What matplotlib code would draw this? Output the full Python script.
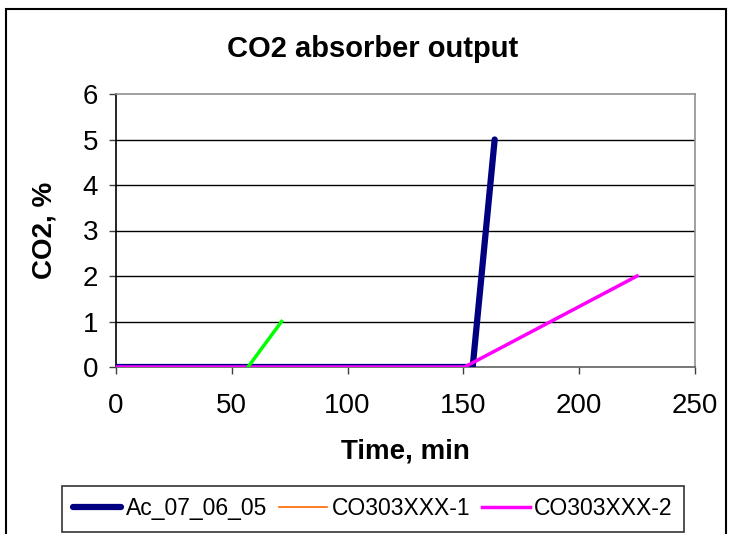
import matplotlib
matplotlib.use('Agg')
import matplotlib.pyplot as plt
from matplotlib.patches import Rectangle

plt.rcParams['font.family'] = ['Liberation Sans', 'DejaVu Sans']

# series data (time in min, CO2 in %)
ac_time = [0, 154, 163.5]
ac_co2 = [0, 0, 5]
co1_time = [0, 150]
co1_co2 = [0, 0]
co2_time = [0, 150.5, 225]
co2_co2 = [0, 0, 2]
green_time = [57, 71.5]
green_co2 = [0, 1]

names = ['Ac_07_06_05', 'CO303XXX-1', 'CO303XXX-2']
xticks = [0, 50, 100, 150, 200, 250]
yticks = [0, 1, 2, 3, 4, 5, 6]

W, H = 730, 534
fig = plt.figure(figsize=(W / 100, H / 100), dpi=100)
ax = fig.add_axes([116 / W, 1 - 367 / H, (695 - 116) / W, (367 - 94) / H])

# outer chart frame
fig.patches.append(Rectangle((6 / W, -0.05), (726 - 6) / W, 1 - 9 / H + 0.05,
                             transform=fig.transFigure, fill=False,
                             edgecolor='black', linewidth=1.5))

for y in yticks[1:-1]:
    ax.axhline(y, color='black', linewidth=1, zorder=1)

l1, = ax.plot(ac_time, ac_co2, color='#000080', linewidth=4.5,
              solid_capstyle='round', solid_joinstyle='round', zorder=3)
l2, = ax.plot(co1_time, co1_co2, color='#FF6600', linewidth=1.2, zorder=3)
l3, = ax.plot(co2_time, co2_co2, color='#FF00FF', linewidth=2.5, zorder=4)
ax.plot(green_time, green_co2, color='#00FF00', linewidth=2.5, zorder=4)

ax.set_xlim(0, 250)
ax.set_ylim(0, 6)
ax.set_xticks(xticks)
ax.set_yticks(yticks)
ax.tick_params(direction='out', length=5, width=1, labelsize=20,
               color='#404040')
ax.tick_params(axis='x', pad=14)
ax.tick_params(axis='y', pad=8)
ax.spines['left'].set_color('black')
ax.spines['bottom'].set_color('#606060')
ax.spines['top'].set_color('#909090')
ax.spines['right'].set_color('#909090')
for s in ax.spines.values():
    s.set_linewidth(1.2)

fig.text(373 / W, 1 - 49 / H, 'CO2 absorber output', fontsize=21,
         fontweight='bold', ha='center', va='center')
ax.set_xlabel('Time, min', fontsize=20, fontweight='bold', labelpad=14)
ax.set_ylabel('CO2, %', fontsize=20, fontweight='bold', labelpad=18)

leg = fig.legend([l1, l2, l3], names, loc='upper center', ncol=3,
                 bbox_to_anchor=(373 / W, 1 - 486 / H),
                 fontsize=16.5, frameon=True, fancybox=False,
                 edgecolor='black', handlelength=2.1, handletextpad=0.2,
                 columnspacing=0.5, borderpad=0.5, borderaxespad=0)
leg.get_frame().set_linewidth(1.2)

fig.savefig('out.png', dpi=100)
